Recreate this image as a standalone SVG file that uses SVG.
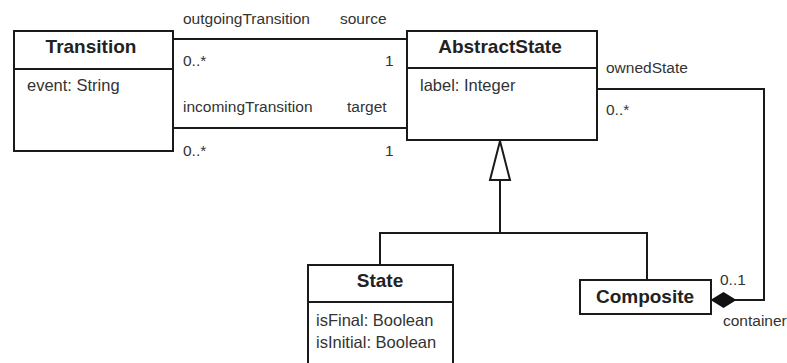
<svg xmlns="http://www.w3.org/2000/svg" width="787" height="363" viewBox="0 0 787 363">
<style>
.box{fill:#fff;stroke:#1a1a1a;stroke-width:2}
.ln{fill:none;stroke:#1a1a1a;stroke-width:2}
.nm{font-family:"Liberation Sans",Arial,sans-serif;font-weight:bold;font-size:19px;fill:#222;text-anchor:middle}
.at{font-family:"Liberation Sans",Arial,sans-serif;font-size:16.5px;fill:#333}
.lb{font-family:"Liberation Sans",Arial,sans-serif;font-size:15.5px;fill:#333}
</style>
<rect width="787" height="363" fill="#fff"/>
<g id="connectors">
<line class="ln" x1="173" y1="39" x2="407" y2="39"/>
<line class="ln" x1="173" y1="128" x2="407" y2="128"/>
<polyline class="ln" points="597,89 764,89 764,300 735,300"/>
<polygon points="712,300 723.5,293 735,300 723.5,307" fill="#111" stroke="#111" stroke-width="1.5"/>
<polyline class="ln" points="380,265 380,233 647,233 647,280"/>
<line class="ln" x1="500" y1="233" x2="500" y2="180"/>
<polygon points="500,141 510,180 490,180" fill="#fff" stroke="#1a1a1a" stroke-width="2"/>
<text class="lb" x="183" y="24">outgoingTransition</text>
<text class="lb" x="340" y="24">source</text>
<text class="lb" x="183" y="66">0..*</text>
<text class="lb" x="385" y="66">1</text>
<text class="lb" x="183" y="112">incomingTransition</text>
<text class="lb" x="347" y="112">target</text>
<text class="lb" x="183" y="156">0..*</text>
<text class="lb" x="385" y="156">1</text>
<text class="lb" x="606" y="73">ownedState</text>
<text class="lb" x="606" y="115">0..*</text>
<text class="lb" x="720" y="285">0..1</text>
<text class="lb" x="723" y="326">container</text>
</g>
<g id="Transition">
<rect class="box" x="14" y="31" width="159" height="120"/>
<line class="ln" x1="14" y1="69" x2="173" y2="69"/>
<text class="nm" x="91" y="53">Transition</text>
<text class="at" x="27" y="91">event: String</text>
</g>
<g id="AbstractState">
<rect class="box" x="407" y="31" width="190" height="109"/>
<line class="ln" x1="407" y1="68" x2="597" y2="68"/>
<text class="nm" x="500" y="53">AbstractState</text>
<text class="at" x="420" y="91">label: Integer</text>
</g>
<g id="State">
<rect class="box" x="308" y="265" width="145" height="110"/>
<line class="ln" x1="308" y1="302" x2="453" y2="302"/>
<text class="nm" x="380" y="287">State</text>
<text class="at" x="316" y="326">isFinal: Boolean</text>
<text class="at" x="316" y="348">isInitial: Boolean</text>
</g>
<g id="Composite">
<rect class="box" x="580" y="280" width="131" height="34"/>
<text class="nm" x="645" y="303">Composite</text>
</g>
</svg>
